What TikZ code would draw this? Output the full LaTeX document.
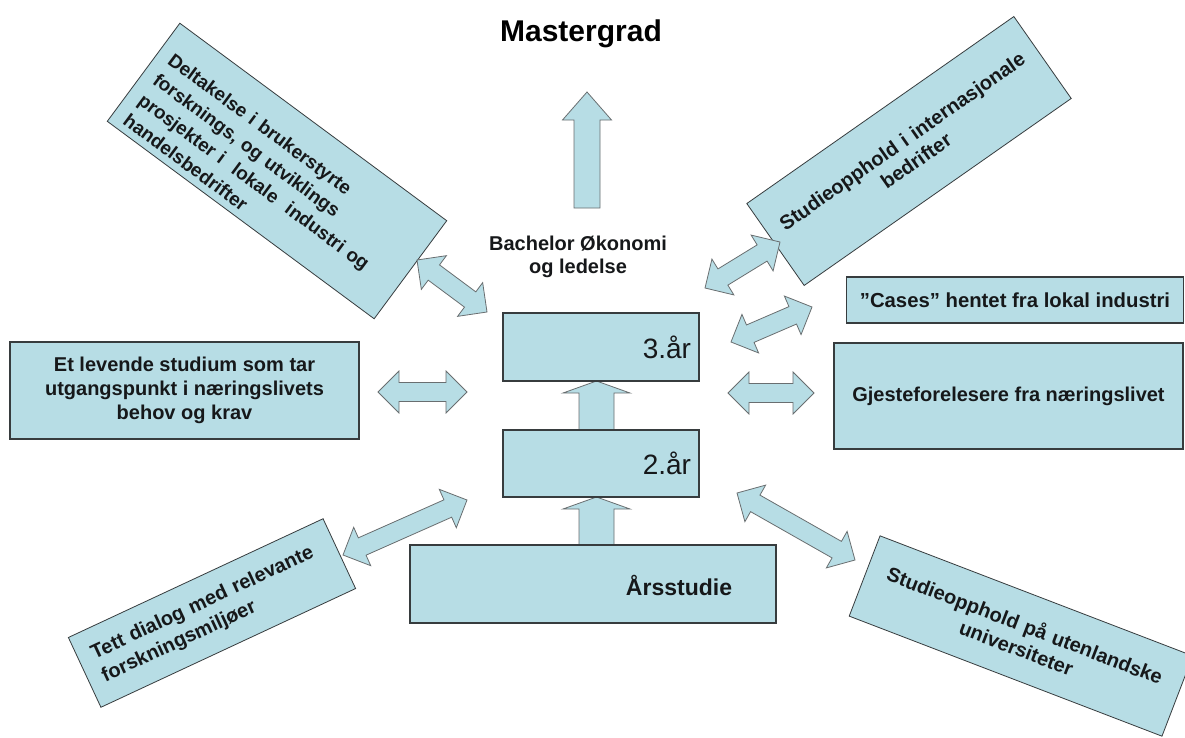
\documentclass[tikz,border=0pt]{standalone}
\usepackage{fontspec}
\setmainfont{Liberation Sans}
\usetikzlibrary{calc}
\usetikzlibrary{positioning}

\definecolor{boxfill}{RGB}{183,221,229}
\definecolor{boxline}{RGB}{55,60,62}
\definecolor{arrline}{RGB}{105,110,112}
\definecolor{txt}{RGB}{22,24,26}

\newcommand{\fsz}[2]{\fontsize{#1}{#2}\selectfont}

% head length, head half width, shaft half width
\newcommand{\hl}{21pt}
\newcommand{\hw}{21pt}
\newcommand{\sw}{9.5pt}

% fat double arrow between two coordinates
\newcommand{\dblarr}[2]{%
\draw[fatarrow] (#1)
 -- ($(#1)!\hl!(#2)!\hw!90:(#2)$)
 -- ($(#1)!\hl!(#2)!\sw!90:(#2)$)
 -- ($(#2)!\hl!(#1)!\sw!-90:(#1)$)
 -- ($(#2)!\hl!(#1)!\hw!-90:(#1)$)
 -- (#2)
 -- ($(#2)!\hl!(#1)!\hw!90:(#1)$)
 -- ($(#2)!\hl!(#1)!\sw!90:(#1)$)
 -- ($(#1)!\hl!(#2)!\sw!-90:(#2)$)
 -- ($(#1)!\hl!(#2)!\hw!-90:(#2)$)
 -- cycle;}

% fat single arrow: tail, tip, shaft half, head half, head length
\newcommand{\uparr}[5]{%
\draw[fatarrow] ($(#1)!#3!90:(#2)$)
 -- ($(#2)!#5!(#1)!#3!-90:(#1)$)
 -- ($(#2)!#5!(#1)!#4!-90:(#1)$)
 -- (#2)
 -- ($(#2)!#5!(#1)!#4!90:(#1)$)
 -- ($(#2)!#5!(#1)!#3!90:(#1)$)
 -- ($(#1)!#3!-90:(#2)$)
 -- cycle;}

\tikzset{
  flatbox/.style={draw=boxline, line width=1.3pt, fill=boxfill, inner sep=0pt, text=txt},
  tiltbox/.style={draw=boxline, line width=0.8pt, fill=boxfill, text=txt, inner ysep=0pt},
  fatarrow/.style={draw=arrline, line width=0.8pt, fill=boxfill, line join=miter},
  boldtext/.style={font=\bfseries\fsz{20}{23}, text=txt},
}

\begin{document}
\begin{tikzpicture}[x=1pt,y=-1pt]

\clip (0,0) rectangle (1185,737);
\fill[white] (0,0) rectangle (1185,737);

%Draw titles
\node[font=\bfseries\fsz{30}{34}, anchor=base] (master) at (581,41) {Mastergrad};
\node[boldtext, align=center] (bachelor) at (578,257) {Bachelor Økonomi\\og ledelse};

%Draw tilted boxes
\node[tiltbox, rotate=-36.5, minimum width=332, minimum height=122, text width=306,
      inner xsep=13, align=left, font=\bfseries\fsz{19}{25}] (deltak) at (277,171)
  {\rule{0pt}{33pt}Deltakelse i brukerstyrte\\forsknings, og utviklings\\prosjekter i \ lokale \ industri og\\handelsbedrifter};

\node[tiltbox, rotate=35, minimum width=326, minimum height=100, text width=310,
      align=center, font=\bfseries\fsz{20}{24}] (intbedr) at (909,151)
  {Studieopphold i internasjonale\\bedrifter};

\node[tiltbox, rotate=25, minimum width=281, minimum height=77, text width=252,
      inner xsep=14.5, align=left, font=\bfseries\fsz{20}{25}] (dialog) at (212,613)
  {Tett dialog med relevante\\forskningsmiljøer};

\node[tiltbox, rotate=-21, minimum width=335, minimum height=86, text width=315,
      align=center, font=\bfseries\fsz{20}{24}] (utland) at (1021,636)
  {Studieopphold på utenlandske\\universiteter};

%Draw side boxes
\node[flatbox, minimum width=349, minimum height=97, align=center, font=\bfseries\fsz{20}{24}] (levende) at (184.5,390.5)
  {Et levende studium som tar\\utgangspunkt i næringslivets\\behov og krav};
\node[flatbox, minimum width=337, minimum height=46, font=\bfseries\fsz{20.3}{23}] (cases) at (1015,300)
  {”Cases” hentet fra lokal industri};
\node[flatbox, minimum width=349, minimum height=106, font=\bfseries\fsz{20}{23}] (gjeste) at (1008.5,396)
  {Gjesteforelesere fra næringslivet};

%Draw arrow ends
\coordinate (tla) at (417,260);   \coordinate (tlb) at (487,312);
\coordinate (tra) at (705,288);   \coordinate (trb) at (780,242);
\coordinate (csa) at (731,342);   \coordinate (csb) at (812,307);
\coordinate (gja) at (728,393);   \coordinate (gjb) at (814,393);
\coordinate (lva) at (378,392);   \coordinate (lvb) at (467,392);
\coordinate (bla) at (343,555);   \coordinate (blb) at (467,500);
\coordinate (bra) at (737,493);   \coordinate (brb) at (855,560);

\dblarr{tla}{tlb}
\dblarr{tra}{trb}
\dblarr{csa}{csb}
\dblarr{gja}{gjb}
\dblarr{lva}{lvb}
\dblarr{bla}{blb}
\dblarr{bra}{brb}

%Draw year boxes
\coordinate (mtail) at (587,208);
\coordinate (mtip) at (587,92);
\uparr{mtail}{mtip}{13pt}{24.5pt}{28pt}

\coordinate (a3tail) at (596.5,432);
\coordinate (a3tip) at (596.5,381);
\coordinate (a2tail) at (596.5,547);
\coordinate (a2tip) at (596.5,497);
\uparr{a3tail}{a3tip}{17.5pt}{33.5pt}{12pt}
\uparr{a2tail}{a2tip}{17.5pt}{33.5pt}{12pt}

\node[flatbox, minimum width=196, minimum height=68, text width=180, align=right,
      font=\fsz{28}{30}] (aar3) at (601,347) {3.år};
\node[flatbox, minimum width=196, minimum height=67, text width=180, align=right,
      font=\fsz{28}{30}] (aar2) at (601,463.5) {2.år};
\node[flatbox, minimum width=366, minimum height=78] (aars) at (593,584) {};
\node[font=\bfseries\fsz{23}{26}, text=txt] (aarstxt) at (679,585) {Årsstudie};

\end{tikzpicture}
\end{document}
